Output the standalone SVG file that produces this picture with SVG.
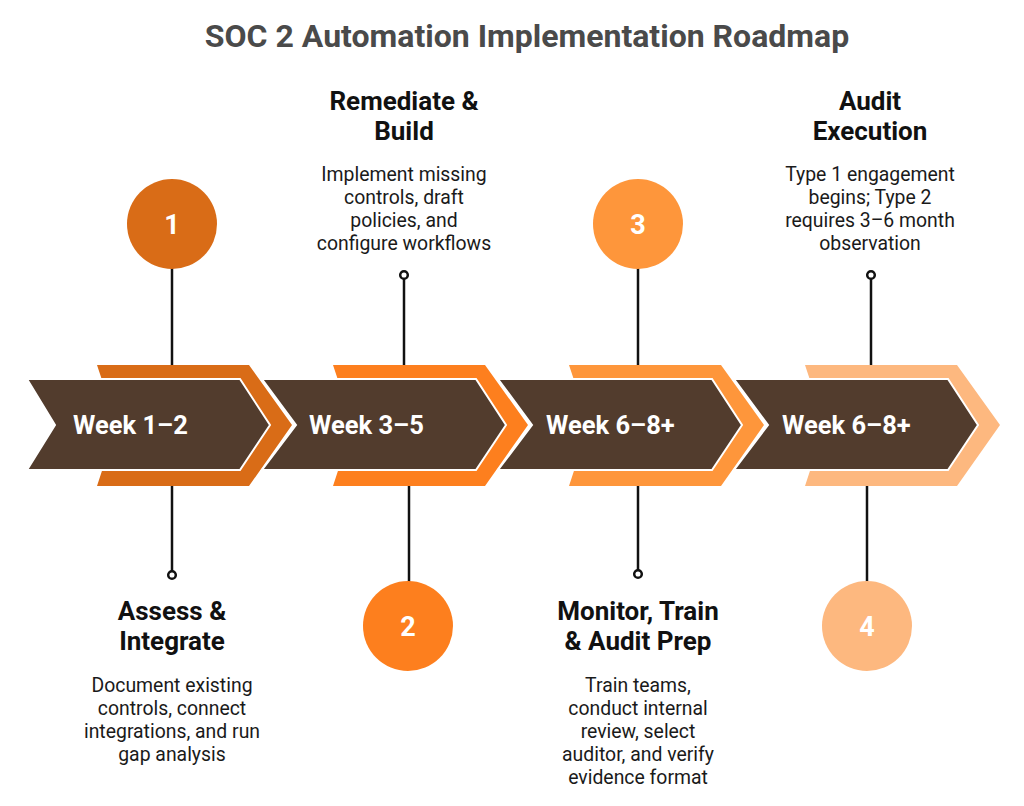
<svg xmlns="http://www.w3.org/2000/svg" width="1024" height="806" viewBox="0 0 1024 806">
<style>
.title{font-family:Roboto,"Liberation Sans",sans-serif;font-weight:700;font-size:32px;fill:#4a4a4a;text-anchor:middle}
.head{font-family:Roboto,"Liberation Sans",sans-serif;font-weight:700;font-size:26px;fill:#111;text-anchor:middle}
.body{font-family:Roboto,"Liberation Sans",sans-serif;font-size:19.4px;fill:#1a1a1a;text-anchor:middle}
.week{font-family:Roboto,"Liberation Sans",sans-serif;font-weight:700;font-size:25.5px;fill:#fff}
.num{font-family:Roboto,"Liberation Sans",sans-serif;font-weight:700;font-size:27px;fill:#fff;text-anchor:middle}
.brown{fill:#523c2d;stroke:#fff;stroke-width:2;stroke-linejoin:miter}
.ln{stroke:#111;stroke-width:2.5;fill:none}
.dot{stroke:#111;stroke-width:2.5;fill:#fff}
</style>
<rect width="1024" height="806" fill="#fff"/>
<text class="title" x="527" y="47">SOC 2 Automation Implementation Roadmap</text>

<g id="connectors">
<line class="ln" x1="172" y1="268" x2="172" y2="366"/>
<line class="ln" x1="172" y1="486" x2="172" y2="571"/>
<circle class="dot" cx="172" cy="575" r="3.8"/>
<line class="ln" x1="404" y1="279" x2="404" y2="366"/>
<circle class="dot" cx="404" cy="275" r="3.8"/>
<line class="ln" x1="409" y1="486" x2="409" y2="582"/>
<line class="ln" x1="638" y1="268" x2="638" y2="366"/>
<line class="ln" x1="638" y1="486" x2="638" y2="570"/>
<circle class="dot" cx="638" cy="574" r="3.8"/>
<line class="ln" x1="871" y1="279" x2="871" y2="366"/>
<circle class="dot" cx="871" cy="275" r="3.8"/>
<line class="ln" x1="867" y1="486" x2="867" y2="582"/>
</g>

<g id="step1">
<polygon fill="#d96c17" points="97,365 249,365 292,425 249,486 97,486 117,425"/>
<polygon class="brown" points="27,379 240,379 270,425 240,470 27,470 55,425"/>
<text class="week" x="73" y="434">Week 1–2</text>
<circle cx="172" cy="224" r="45" fill="#d96c17"/>
<text class="num" x="172" y="234">1</text>
<text class="head" x="172" y="620">Assess &amp;</text>
<text class="head" x="172" y="650">Integrate</text>
<text class="body" x="172" y="692">Document existing</text>
<text class="body" x="172" y="715">controls, connect</text>
<text class="body" x="172" y="738">integrations, and run</text>
<text class="body" x="172" y="761">gap analysis</text>
</g>

<g id="step2">
<polygon fill="#fd7f1e" points="333,365 485,365 528,425 485,486 333,486 353,425"/>
<polygon class="brown" points="262,379 476,379 506,425 476,470 262,470 296,425"/>
<text class="week" x="309" y="434">Week 3–5</text>
<circle cx="408" cy="626" r="45" fill="#fd7f1e"/>
<text class="num" x="408" y="636">2</text>
<text class="head" x="404" y="110">Remediate &amp;</text>
<text class="head" x="404" y="140">Build</text>
<text class="body" x="404" y="181">Implement missing</text>
<text class="body" x="404" y="204">controls, draft</text>
<text class="body" x="404" y="227">policies, and</text>
<text class="body" x="404" y="250">configure workflows</text>
</g>

<g id="step3">
<polygon fill="#fe963b" points="569,365 721,365 764,425 721,486 569,486 589,425"/>
<polygon class="brown" points="498,379 712,379 742,425 712,470 498,470 532,425"/>
<text class="week" x="546" y="434">Week 6–8+</text>
<circle cx="638" cy="224" r="45" fill="#fe963b"/>
<text class="num" x="638" y="234">3</text>
<text class="head" x="638" y="620">Monitor, Train</text>
<text class="head" x="638" y="650">&amp; Audit Prep</text>
<text class="body" x="638" y="692">Train teams,</text>
<text class="body" x="638" y="715">conduct internal</text>
<text class="body" x="638" y="738">review, select</text>
<text class="body" x="638" y="761">auditor, and verify</text>
<text class="body" x="638" y="784">evidence format</text>
</g>

<g id="step4">
<polygon fill="#fdb87f" points="805,365 957,365 1000,425 957,486 805,486 825,425"/>
<polygon class="brown" points="734,379 948,379 978,425 948,470 734,470 768,425"/>
<text class="week" x="782" y="434">Week 6–8+</text>
<circle cx="867" cy="626" r="45" fill="#fdb87f"/>
<text class="num" x="867" y="636">4</text>
<text class="head" x="870" y="110">Audit</text>
<text class="head" x="870" y="140">Execution</text>
<text class="body" x="870" y="181">Type 1 engagement</text>
<text class="body" x="870" y="204">begins; Type 2</text>
<text class="body" x="870" y="227">requires 3–6 month</text>
<text class="body" x="870" y="250">observation</text>
</g>
</svg>
